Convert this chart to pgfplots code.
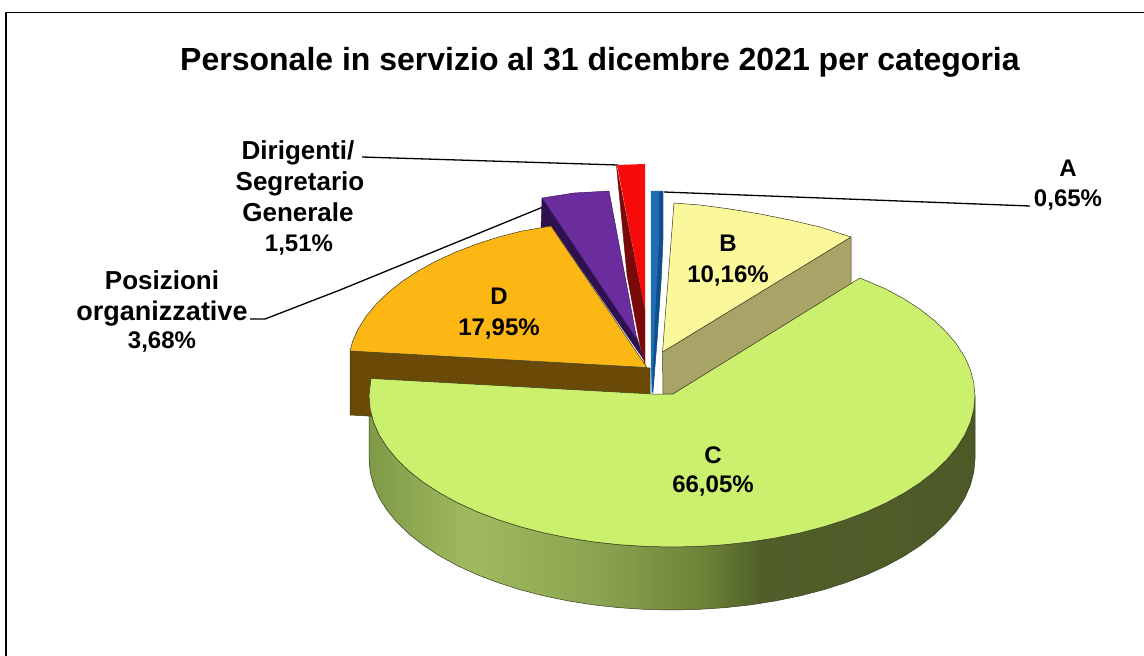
\documentclass[border=0pt]{standalone}
\usepackage{pgfplots}
\pgfplotsset{compat=1.18}
\usepackage{fontspec}
\setmainfont{Liberation Sans}
\definecolor{ctop}{HTML}{CBF06E}
\definecolor{btop}{HTML}{FBF89C}
\definecolor{bside}{HTML}{A8A468}
\definecolor{dtop}{HTML}{FDB714}
\definecolor{dside}{HTML}{6B4A08}
\definecolor{ptop}{HTML}{6B2C9E}
\definecolor{pside}{HTML}{2E1250}
\definecolor{rtop}{HTML}{F60A0A}
\definecolor{rside}{HTML}{7A0A0A}
\definecolor{atop}{HTML}{1F6DB4}
\definecolor{aside}{HTML}{114E8C}
\definecolor{edge}{HTML}{3A3A20}
\definecolor{CSa}{HTML}{7F9A48}
\definecolor{CSb}{HTML}{9FBA5E}
\definecolor{CSc}{HTML}{8BA450}
\definecolor{CSd}{HTML}{6E8439}
\definecolor{CSe}{HTML}{505F2A}
\definecolor{CSf}{HTML}{4C5A27}
\pgfdeclarehorizontalshading{cside}{100bp}{
 color(0bp)=(CSa);
 color(25bp)=(CSa);
 color(33.3bp)=(CSb);
 color(44bp)=(CSc);
 color(52.3bp)=(CSd);
 color(57.3bp)=(CSe);
 color(75bp)=(CSf);
 color(100bp)=(CSf)}
\newcommand{\lab}[4][26]{\node[font=\fontsize{#1}{#1}\selectfont\bfseries,anchor=center,inner sep=0pt] at (axis cs:#2,#3) {#4};}
\begin{document}
\begin{tikzpicture}
\useasboundingbox (0,0) rectangle (1144pt,656pt);
\begin{axis}[scale only axis,width=1144pt,height=656pt,xmin=0,xmax=1144,ymin=0,ymax=656,y dir=reverse,axis lines=none,clip=true,line join=round]
% frame
\addplot[black,line width=1.6pt] coordinates {(6,660) (6,12.5) (1150,12.5)};
% leader lines
\addplot[black,line width=1.3pt] coordinates {(362,157) (618,165)};
\addplot[black,line width=1.3pt] coordinates {(664,192) (1030,206)};
\addplot[black,line width=1.3pt] coordinates {(250,319) (265,319) (340,290) (543,207) (575,195)};
% C side
\addplot[shade,shading=cside,draw=edge,line width=.5pt] coordinates {
(975,396) (973.8,409.2) (970.4,422.2) (964.7,435.1) (956.7,447.6) (946.6,459.8) (934.4,471.5) (920.2,482.6) (904.1,493.1) (886.3,502.8) (866.8,511.7) (845.8,519.7) (823.5,526.8) (800,532.9) (775.6,537.9) (750.4,541.9) (724.6,544.7) (698.4,546.4) (672,547) (645.6,546.4) (619.4,544.7) (593.6,541.9) (568.4,537.9) (544,532.9) (520.5,526.8) (498.2,519.7) (477.2,511.7) (457.7,502.8) (439.9,493.1) (423.8,482.6) (409.6,471.5) (397.4,459.8) (387.3,447.6) (379.3,435.1) (373.6,422.2) (370.2,409.2) (369,396)
(369,459) (370.2,472.2) (373.6,485.2) (379.3,498.1) (387.3,510.6) (397.4,522.8) (409.6,534.5) (423.8,545.6) (439.9,556.1) (457.7,565.8) (477.2,574.7) (498.2,582.7) (520.5,589.8) (544,595.9) (568.4,600.9) (593.6,604.9) (619.4,607.7) (645.6,609.4) (672,610) (698.4,609.4) (724.6,607.7) (750.4,604.9) (775.6,600.9) (800,595.9) (823.5,589.8) (845.8,582.7) (866.8,574.7) (886.3,565.8) (904.1,556.1) (920.2,545.6) (934.4,534.5) (946.6,522.8) (956.7,510.6) (964.7,498.1) (970.4,485.2) (973.8,472.2) (975,459)
} --cycle;
% D side and top
\addplot[fill=dside,draw=edge,line width=.5pt] coordinates {(350,351) (650,368) (650,432) (350,415)} --cycle;
% purple
\addplot[fill=pside,draw=pside,line width=.4pt] coordinates {(542,198) (541,228) (552,227) (644,360) (637,338)} --cycle;
\addplot[fill=ptop,draw=pside,line width=.4pt] coordinates {(542,198) (574,193) (609,191) (637,340)} --cycle;
% red
\addplot[fill=rside,draw=rside,line width=.4pt] coordinates {(616.5,166) (645,310) (645,365) (640,345) (627,275)} --cycle;
\addplot[fill=rtop,draw=none] coordinates {(617,165) (645,164) (645,310)} --cycle;
\addplot[fill=dtop,draw=edge,line width=.5pt] coordinates {(647,367.5) (350,351) (352.5,341.7) (358.2,328.9) (366,316.4) (376.2,304.1) (388.2,292.5) (402.3,281.3) (418.2,270.9) (435.9,261.2) (455.1,252.3) (475.8,244.3) (498,237.2) (521.1,231.2) (551,226)} --cycle;
% A
\addplot[fill=atop,draw=atop,line width=.4pt] coordinates {(651,191) (663,191) (663,240) (661.5,275) (657,342) (653,392) (652,393) (651,365)} --cycle;
\addplot[fill=aside,draw=none] coordinates {(659,192) (663,191) (663,240) (661.5,275) (657,342) (653,392) (652,392) (655,320) (659,240)} --cycle;
% B
\addplot[fill=bside,draw=edge,line width=.5pt] coordinates {(662.5,352) (851,237) (851,284) (673,394) (663,394)} --cycle;
\addplot[fill=btop,draw=edge,line width=.5pt] coordinates {(662.5,352) (674,203) (700,205) (730,209) (760,214) (790,220) (820,227) (851,237)} --cycle;
% C top
\addplot[fill=ctop,draw=edge,line width=.5pt] coordinates {(371,378.5) (652,394) (673,394) (860,278) (886.3,289.2) (904.1,298.9) (920.2,309.4) (934.4,320.5) (946.6,332.2) (956.7,344.4) (964.7,356.9) (970.4,369.8) (973.8,382.8) (975,396) (973.8,409.2) (970.4,422.2) (964.7,435.1) (956.7,447.6) (946.6,459.8) (934.4,471.5) (920.2,482.6) (904.1,493.1) (886.3,502.8) (866.8,511.7) (845.8,519.7) (823.5,526.8) (800,532.9) (775.6,537.9) (750.4,541.9) (724.6,544.7) (698.4,546.4) (672,547) (645.6,546.4) (619.4,544.7) (593.6,541.9) (568.4,537.9) (544,532.9) (520.5,526.8) (498.2,519.7) (477.2,511.7) (457.7,502.8) (439.9,493.1) (423.8,482.6) (409.6,471.5) (397.4,459.8) (387.3,447.6) (379.3,435.1) (373.6,422.2) (370.2,409.2) (369,396)} --cycle;
% text
\lab[32]{600}{62}{Personale in servizio al 31 dicembre 2021 per categoria}
\lab{298}{153}{Dirigenti/}
\lab{300}{184}{Segretario}
\lab{298}{212}{Generale}
\lab[24]{299}{245}{1,51\%}
\lab[24]{1068}{168}{A}
\lab[24]{1068}{200}{0,65\%}
\lab[24]{728}{243}{B}
\lab[24]{728}{276}{10,16\%}
\lab[24]{499}{296}{D}
\lab[24]{499}{329}{17,95\%}
\lab[24]{713}{455}{C}
\lab[24]{713}{486}{66,05\%}
\lab{162}{280}{Posizioni}
\lab[27]{162}{314}{organizzative}
\lab[24]{162}{342}{3,68\%}
\end{axis}
\end{tikzpicture}
\end{document}
